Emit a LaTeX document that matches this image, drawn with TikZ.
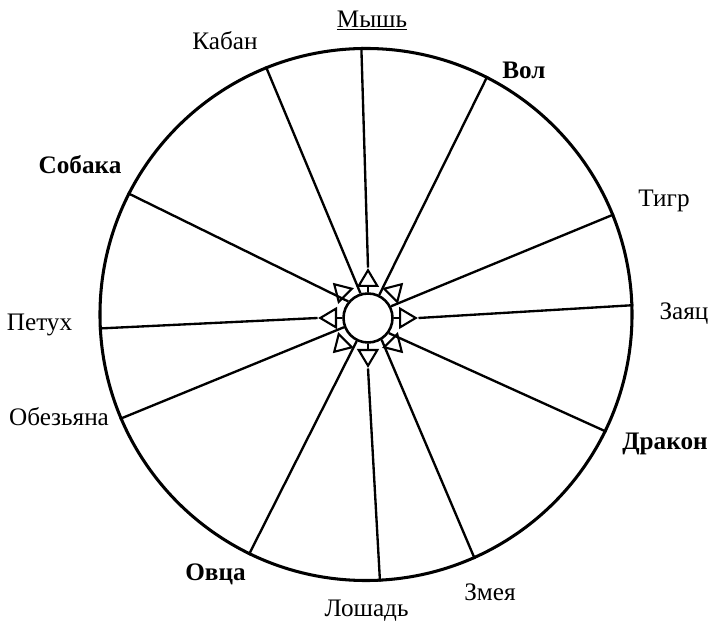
\documentclass[tikz,border=0pt]{standalone}
\usepackage{fontspec}
\setmainfont{Liberation Serif}
\usetikzlibrary{shapes.geometric,calc}

\begin{document}
\begin{tikzpicture}[
    x=0.03cm, y=0.03cm,
    wheel/.style={circle, draw, line width=2.6pt, inner sep=0pt},
    spoke/.style={line width=2pt},
    pointer/.style={isosceles triangle, isosceles triangle stretches, draw, line width=1.8pt, fill=white, inner sep=0pt, minimum width=0.56cm, minimum height=0.47cm},
    animal/.style={font=\fontsize{21.5}{25}\selectfont, anchor=base, inner sep=0pt},
    chief/.style={animal, font=\fontsize{21.5}{25}\selectfont\bfseries},
]
\useasboundingbox (0,0) rectangle (712,622);

% Outer wheel and hub
\node[wheel, minimum size=15.96cm] (rim) at (366,307.5) {};
\node[wheel, line width=2.2pt, minimum size=1.47cm] (hub) at (368,304) {};

% Eight open pointers round the hub
\node[pointer, rotate=90, anchor=lower side] (tip-n) at ($(hub.center)+(90:31)$) {};
\node[pointer, rotate=45, anchor=lower side] (tip-ne) at ($(hub.center)+(45:31)$) {};
\node[pointer, rotate=0, anchor=lower side] (tip-e) at ($(hub.center)+(0:31)$) {};
\node[pointer, rotate=-45, anchor=lower side] (tip-se) at ($(hub.center)+(-45:31)$) {};
\node[pointer, rotate=-90, anchor=lower side] (tip-s) at ($(hub.center)+(-90:31)$) {};
\node[pointer, rotate=-135, anchor=lower side] (tip-sw) at ($(hub.center)+(-135:31)$) {};
\node[pointer, rotate=180, anchor=lower side] (tip-w) at ($(hub.center)+(180:31)$) {};
\node[pointer, rotate=135, anchor=lower side] (tip-nw) at ($(hub.center)+(135:31)$) {};

% Short stems
\draw[spoke] (hub.90) -- (tip-n.lower side);
\draw[spoke] (hub.0) -- (tip-e.lower side);
\draw[spoke] (hub.-90) -- (tip-s.lower side);
\draw[spoke] (hub.180) -- (tip-w.lower side);

% Twelve spokes
\draw[spoke] (rim.91) -- (tip-n.apex);
\draw[spoke] (rim.63) -- (hub.64);
\draw[spoke] (rim.22) -- (hub.27);
\draw[spoke] (rim.2) -- (tip-e.apex);
\draw[spoke] (rim.-26) -- (hub.-36);
\draw[spoke] (rim.-66) -- (hub.-58);
\draw[spoke] (rim.-87) -- (tip-s.apex);
\draw[spoke] (rim.-116) -- (hub.-116);
\draw[spoke] (rim.203) -- (hub.201);
\draw[spoke] (rim.183) -- (tip-w.apex);
\draw[spoke] (rim.153) -- (hub.140);
\draw[spoke] (rim.112) -- (hub.107);

% Names round the wheel
\node[animal] (mouse) at (372,594) {\underline{Мышь}};
\node[chief] (ox) at (524,543) {Вол};
\node[animal] (tiger) at (664,415) {Тигр};
\node[animal] (hare) at (684,302.5) {Заяц};
\node[chief] (dragon) at (665,172) {Дракон};
\node[animal] (snake) at (490,22) {Змея};
\node[animal] (horse) at (366.5,5.5) {Лошадь};
\node[chief] (sheep) at (215.5,42) {Овца};
\node[animal] (monkey) at (59,196.3) {Обезьяна};
\node[animal] (rooster) at (39.5,291.3) {Петух};
\node[chief] (dog) at (80,448) {Собака};
\node[animal] (boar) at (225,572.5) {Кабан};

\end{tikzpicture}
\end{document}
